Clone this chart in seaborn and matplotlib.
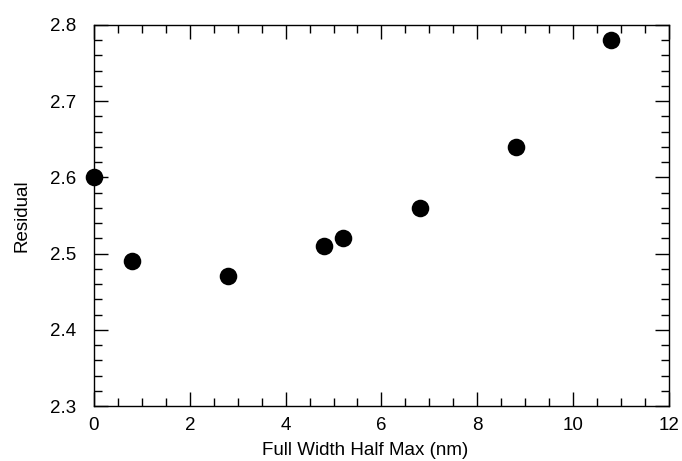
import pandas as pd
import seaborn as sns
import matplotlib.pyplot as plt
from matplotlib.ticker import MultipleLocator

# data
fwhm = [0.0, 0.8, 2.8, 4.8, 5.2, 6.8, 8.8, 10.8]
residual = [2.60, 2.49, 2.47, 2.51, 2.52, 2.56, 2.64, 2.78]

df = pd.DataFrame({'fwhm': fwhm, 'residual': residual})

sns.set_style('ticks')
plt.rcParams['font.family'] = ['Liberation Sans', 'DejaVu Sans']
plt.rcParams['text.color'] = 'black'
plt.rcParams['axes.labelcolor'] = 'black'
plt.rcParams['xtick.color'] = 'black'
plt.rcParams['ytick.color'] = 'black'

fig = plt.figure(figsize=(6.82, 4.61), dpi=100)
ax = fig.add_axes([0.1378, 0.1193, 0.843, 0.8265])

sns.scatterplot(data=df, x='fwhm', y='residual', color='black', s=160,
                edgecolor='black', linewidth=0, ax=ax, clip_on=False, zorder=3)

ax.set_xlim(0, 12)
ax.set_ylim(2.3, 2.8)
ax.xaxis.set_major_locator(MultipleLocator(2))
ax.xaxis.set_minor_locator(MultipleLocator(0.5))
ax.yaxis.set_major_locator(MultipleLocator(0.1))
ax.yaxis.set_minor_locator(MultipleLocator(0.02))
ax.yaxis.set_major_formatter(plt.FormatStrFormatter('%.1f'))

ax.tick_params(which='both', direction='in', top=True, right=True, width=1,
               color='black', labelcolor='black')
ax.tick_params(which='major', length=10, labelsize=13.5)
ax.tick_params(which='minor', length=6)
ax.tick_params(axis='x', which='major', pad=8)
ax.tick_params(axis='y', which='major', pad=13)
for s in ax.spines.values():
    s.set_linewidth(1)
    s.set_color('black')

ax.set_xlabel('Full Width Half Max (nm)', fontsize=13.5)
ax.set_ylabel('Residual', fontsize=13.5)
ax.xaxis.set_label_coords(0.471, -0.095)
ax.yaxis.set_label_coords(-0.11, 0.5)

fig.savefig('out.png', dpi=100)
